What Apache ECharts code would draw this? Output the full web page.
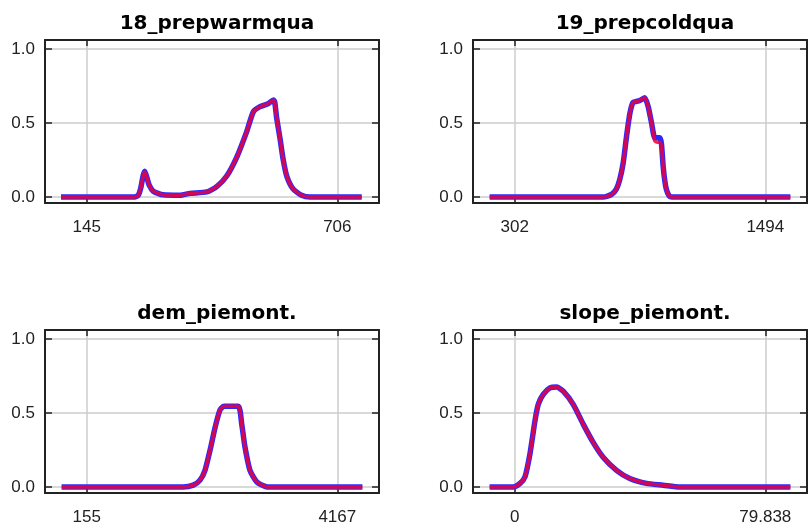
<!DOCTYPE html>
<html><head><meta charset="utf-8">
<script src="https://cdn.jsdelivr.net/npm/echarts@6/dist/echarts.min.js"></script>
<style>html,body{margin:0;padding:0;background:#fff}#c{width:812px;height:527px}</style>
</head><body><div id="c"></div>
<script>
// ---- data ----
const titles = ['18_prepwarmqua', '19_prepcoldqua', 'dem_piemont.', 'slope_piemont.'];
const xTicks1 = [145, 706];
const xTicks2 = [302, 1494];
const xTicks3 = [155, 4167];
const xTicks4 = [0, 79.838];
const yTicks = [0, 0.5, 1.0];

// panel 1: 18_prepwarmqua
const p1x = [87.5, 140, 250, 260, 266, 271, 275, 279, 285, 294, 316, 354, 376, 414, 436, 458, 481, 503, 518, 533, 551, 563, 566, 570, 578, 585, 593, 607, 626, 645, 700, 760.6];
const p1blue = [0, 0, 0, 0.01, 0.06, 0.14, 0.175, 0.14, 0.08, 0.04, 0.015, 0.012, 0.025, 0.035, 0.07, 0.14, 0.27, 0.44, 0.575, 0.61, 0.63, 0.655, 0.64, 0.54, 0.39, 0.25, 0.14, 0.055, 0.012, 0, 0, 0];
const p1red  = [0, 0, 0, 0.01, 0.06, 0.14, 0.17, 0.14, 0.08, 0.04, 0.015, 0.012, 0.025, 0.035, 0.07, 0.14, 0.27, 0.44, 0.575, 0.61, 0.63, 0.655, 0.64, 0.54, 0.39, 0.25, 0.14, 0.055, 0.012, 0, 0, 0];

// panel 2: 19_prepcoldqua
const p2x = [182.8, 500, 723, 763, 786, 802, 818, 834, 850, 865, 880, 897, 921, 937, 953, 968, 980, 992, 1000, 1008, 1016, 1024, 1036, 1048, 1300, 1613.2];
const p2blue = [0, 0, 0, 0.018, 0.055, 0.12, 0.23, 0.41, 0.565, 0.64, 0.645, 0.652, 0.67, 0.61, 0.5, 0.40, 0.40, 0.40, 0.36, 0.21, 0.11, 0.05, 0.01, 0, 0, 0];
const p2red  = [0, 0, 0, 0.018, 0.055, 0.12, 0.23, 0.41, 0.565, 0.64, 0.645, 0.652, 0.67, 0.61, 0.5, 0.38, 0.37, 0.37, 0.34, 0.21, 0.11, 0.05, 0.01, 0, 0, 0];

// panel 3: dem_piemont.
const p3x = [-246.2, 1000, 1700, 1862, 1969, 2049, 2129, 2209, 2289, 2353, 2582, 2637, 2689, 2769, 2877, 3010, 3090, 4568.2];
const p3blue = [0, 0, 0, 0.013, 0.047, 0.113, 0.247, 0.40, 0.52, 0.545, 0.545, 0.425, 0.27, 0.113, 0.035, 0.005, 0, 0];
const p3red  = [0, 0, 0, 0.013, 0.047, 0.113, 0.247, 0.40, 0.52, 0.545, 0.545, 0.425, 0.27, 0.113, 0.035, 0.005, 0, 0];

// panel 4: slope_piemont.
const p4x = [-7.98, -0.5, 1.69, 3.28, 4.87, 6.46, 7.51, 9.1, 11.23, 13.36, 15.46, 18.64, 21.82, 25.0, 28.18, 32.45, 36.68, 41.99, 47.27, 52.58, 87.82];
const p4blue = [0, 0, 0.025, 0.069, 0.225, 0.447, 0.558, 0.625, 0.669, 0.675, 0.647, 0.558, 0.425, 0.302, 0.202, 0.113, 0.058, 0.025, 0.013, 0, 0];
const p4red  = [0, 0, 0.025, 0.069, 0.225, 0.447, 0.558, 0.625, 0.669, 0.675, 0.647, 0.558, 0.425, 0.302, 0.202, 0.113, 0.058, 0.025, 0.013, 0, 0];

// ---- layout ----
const panels = [
  {x: p1x, b: p1blue, r: p1red, ticks: xTicks1, min: 51.7, max: 799.3, left: 45, top: 40},
  {x: p2x, b: p2blue, r: p2red, ticks: xTicks2, min: 103.6, max: 1692.4, left: 473, top: 40},
  {x: p3x, b: p3blue, r: p3red, ticks: xTicks3, min: -512.6, max: 4834.6, left: 45, top: 330},
  {x: p4x, b: p4blue, r: p4red, ticks: xTicks4, min: -13.28, max: 93.12, left: 473, top: 330}
];
const W = 334, H = 163;
const frame = {show: true, onZero: false, lineStyle: {color: '#222', width: 2}};
const tick = (vals, len) => ({show: true, inside: true, length: len, customValues: vals, lineStyle: {color: '#222', width: 1.5}});
const zip = (xs, ys) => xs.map((v, i) => [v, ys[i]]);

const option = {
  animation: false,
  backgroundColor: '#fff',
  title: [], grid: [], xAxis: [], yAxis: [], series: []
};
panels.forEach((p, i) => {
  option.title.push({text: titles[i], left: p.left + W / 2, top: p.top - 31, textAlign: 'center',
    textStyle: {fontFamily: 'DejaVu Sans', fontWeight: 'bold', fontSize: 20, color: '#000'}});
  option.grid.push({left: p.left, top: p.top, width: W, height: H, show: false});
  option.xAxis.push({gridIndex: i, type: 'value', position: 'bottom', min: p.min, max: p.max,
    axisLine: frame, axisTick: tick(p.ticks, 6),
    axisLabel: {customValues: p.ticks, margin: 16, fontFamily: 'Liberation Sans', fontSize: 17, color: '#222',
      formatter: v => String(v)},
    splitLine: {show: true, lineStyle: {color: '#cccccc', width: 1.5}}});
  option.xAxis.push({gridIndex: i, type: 'value', position: 'top', min: p.min, max: p.max,
    axisLine: frame, axisTick: tick(p.ticks, 6), axisLabel: {show: false}, splitLine: {show: false}});
  option.yAxis.push({gridIndex: i, type: 'value', position: 'left', min: -0.04, max: 1.06,
    axisLine: frame, axisTick: tick(yTicks, 7),
    axisLabel: {customValues: yTicks, margin: 10, fontFamily: 'Liberation Sans', fontSize: 17, color: '#222',
      formatter: v => v.toFixed(1)},
    splitLine: {show: true, lineStyle: {color: '#cccccc', width: 1.5}}});
  option.yAxis.push({gridIndex: i, type: 'value', position: 'right', min: -0.04, max: 1.06,
    axisLine: frame, axisTick: tick(yTicks, 7), axisLabel: {show: false}, splitLine: {show: false}});
  option.series.push({type: 'line', xAxisIndex: 2 * i, yAxisIndex: 2 * i, data: zip(p.x, p.b),
    showSymbol: false, smooth: 0.2, lineStyle: {color: '#2a2aff', width: 5.5}, z: 2});
  option.series.push({type: 'line', xAxisIndex: 2 * i, yAxisIndex: 2 * i, data: zip(p.x, p.r),
    showSymbol: false, smooth: 0.2, lineStyle: {color: '#f00038', width: 3.5, opacity: 0.85}, z: 3});
});
const chart = echarts.init(document.getElementById('c'), null, {renderer: 'canvas'});
chart.setOption(option);
</script>
</body></html>
